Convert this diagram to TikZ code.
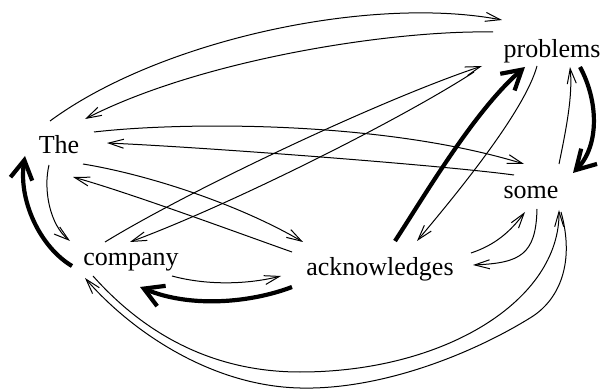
\documentclass[tikz,border=0pt]{standalone}
\usepackage{fontspec}
\setmainfont{Liberation Serif}
\usetikzlibrary{arrows.meta,calc}

\tikzset{
  word/.style={inner sep=0pt, anchor=base, font=\fontsize{26}{30}\selectfont},
  thin/.style={line width=1pt, -{Straight Barb[length=15pt,width=9pt]}},
  heavy/.style={line width=4.2pt, -{Straight Barb[length=19pt,width=22pt]}},
}

\begin{document}
\begin{tikzpicture}[x=1pt,y=-1pt]
\useasboundingbox (0,0) rectangle (603,390);

% words
\node[word] (The)  at (59,154)  {The};
\node[word] (prob) at (552,58)  {problems};
\node[word] (some) at (531,199) {some};
\node[word] (comp) at (131,266) {company};
\node[word] (ack)  at (380,276) {acknowledges};

% The <-> problems
\draw[thin] ($(The.base)+(-9,-33)$) .. controls (160,40) and (370,-5) .. ($(prob.base)+(-50,-38)$);
\draw[thin] ($(prob.base)+(-59,-26)$) .. controls (390,30) and (200,60) .. ($(The.base)+(26,-35)$);

% The <-> some
\draw[thin] ($(The.base)+(35,-22)$) .. controls (180,122) and (380,120) .. ($(some.base)+(-7,-35)$);
\draw[thin] ($(some.base)+(-17,-24)$) .. controls (440,165) and (200,147) .. ($(The.base)+(48,-11)$);

% The <-> acknowledges
\draw[thin] ($(The.base)+(24,10)$) .. controls (150,175) and (240,205) .. ($(ack.base)+(-77,-34)$);
\draw[thin] ($(ack.base)+(-88,-24)$) .. controls (230,230) and (130,193) .. ($(The.base)+(14,23)$);

% The <-> company
\draw[thin] ($(The.base)+(-10,11)$) .. controls (43,190) and (50,225) .. ($(comp.base)+(-61,-25)$);
\draw[heavy] ($(comp.base)+(-59,0)$) .. controls (40,247) and (18,200) .. ($(The.base)+(-34,2)$);

% company <-> problems
\draw[thin] ($(comp.base)+(-26,-24)$) .. controls (190,190) and (380,100) .. ($(prob.base)+(-70,8)$);
\draw[thin] ($(prob.base)+(-78,14)$) .. controls (400,120) and (230,205) .. ($(comp.base)+(-1,-24)$);

% company <-> acknowledges
\draw[thin] ($(comp.base)+(41,10)$) .. controls (205,285) and (245,285) .. ($(ack.base)+(-99,0)$);
\draw[heavy] ($(ack.base)+(-88,11)$) .. controls (250,303) and (190,308) .. ($(comp.base)+(9,21)$);

% acknowledges <-> problems
\draw[heavy] ($(ack.base)+(15,-35)$) .. controls (425,195) and (475,110) .. ($(prob.base)+(-27,9)$);
\draw[thin] ($(prob.base)+(-15,8)$) .. controls (525,110) and (460,190) .. ($(ack.base)+(37,-35)$);

% problems <-> some
\draw[heavy] ($(prob.base)+(28,9)$) .. controls (598,100) and (600,145) .. ($(some.base)+(42,-26)$);
\draw[thin] ($(some.base)+(28,-35)$) .. controls (566,130) and (573,95) .. ($(prob.base)+(18,9)$);

% acknowledges <-> some
\draw[thin] ($(ack.base)+(91,-23)$) .. controls (495,245) and (510,232) .. ($(some.base)+(-6,13)$);
\draw[thin] ($(some.base)+(6,10)$) .. controls (536,255) and (520,263) .. ($(ack.base)+(93,-11)$);

% company <-> some, the long loops underneath
\draw[thin] ($(comp.base)+(-38,10)$) .. controls (150,340) and (220,372) .. (300,372)
  .. controls (445,372) and (560,300) .. ($(some.base)+(28,11)$);
\draw[thin] ($(some.base)+(30,13)$) .. controls (575,262) and (560,300) .. (530,318)
  .. controls (470,355) and (380,390) .. (300,388)
  .. controls (210,386) and (130,330) .. ($(comp.base)+(-46,12)$);

\end{tikzpicture}
\end{document}
